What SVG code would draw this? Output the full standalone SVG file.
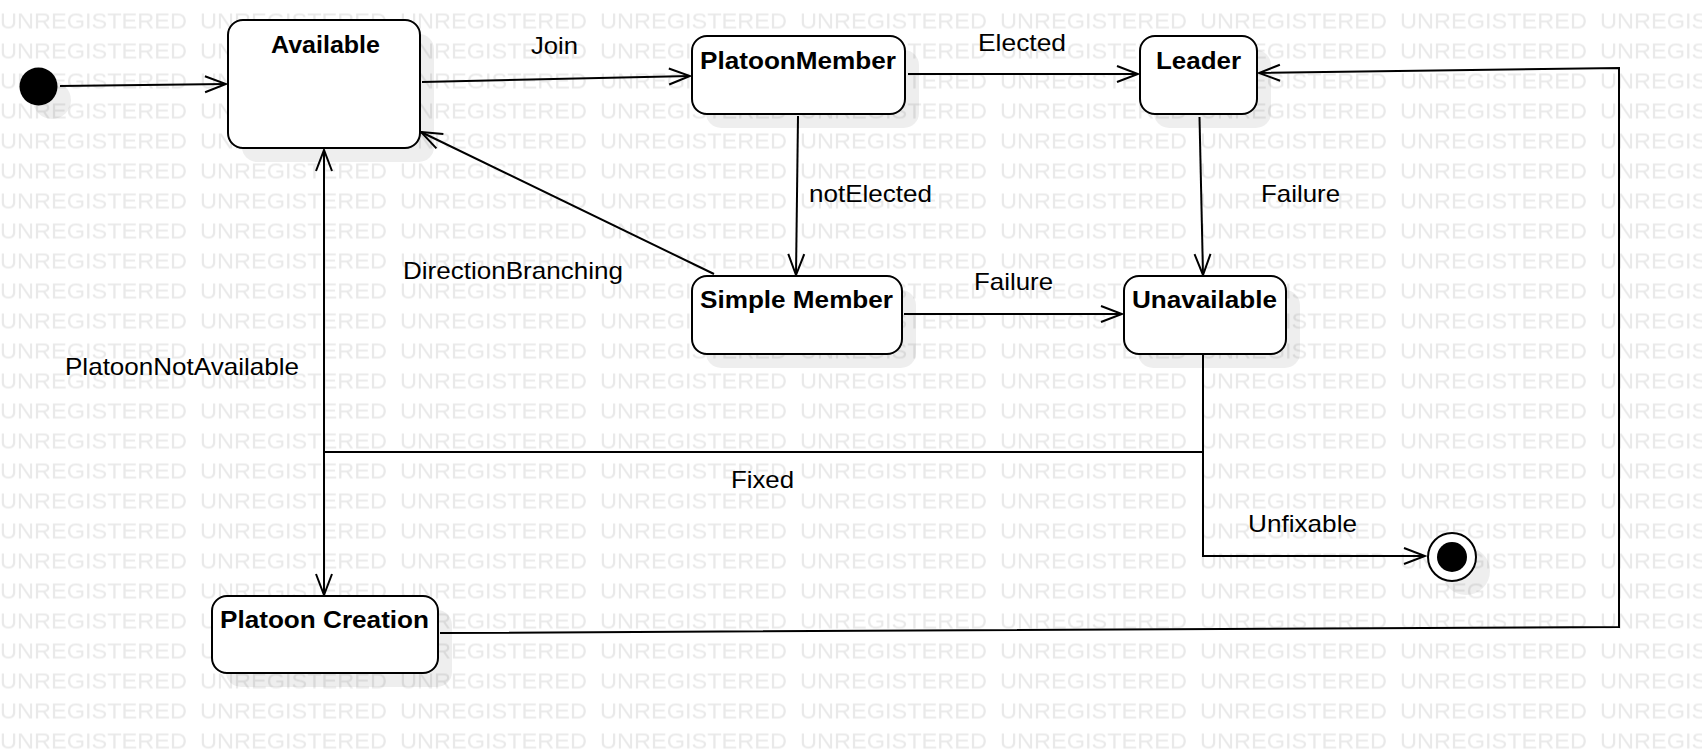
<svg xmlns="http://www.w3.org/2000/svg" width="1702" height="754" viewBox="0 0 1702 754">
<style>
.wm{font-family:"Liberation Sans",Arial,sans-serif;font-size:21.5px;fill:#e9e9e9}
.node{fill:#fff;stroke:#000;stroke-width:2}
.shadow{fill:#000;fill-opacity:0.065}
.title{font-family:"Liberation Sans",Arial,sans-serif;font-size:24px;font-weight:bold;fill:#000}
.lbl{font-family:"Liberation Sans",Arial,sans-serif;font-size:24px;fill:#000}
.edge{fill:none;stroke:#000;stroke-width:2}
</style>
<defs>
<pattern id="wmp" patternUnits="userSpaceOnUse" x="0" y="-1.5" width="200" height="30">
<text class="wm" x="0" y="30" textLength="187" lengthAdjust="spacingAndGlyphs">UNREGISTERED</text>
</pattern>
<marker id="arr" viewBox="-24 -11 26 22" refX="0" refY="0" markerWidth="26" markerHeight="22" markerUnits="userSpaceOnUse" orient="auto">
<path d="M-21,-8 L0,0 L-21,8" fill="none" stroke="#000" stroke-width="2"/>
</marker>
<marker id="arrs" viewBox="-24 -11 26 22" refX="0" refY="0" markerWidth="26" markerHeight="22" markerUnits="userSpaceOnUse" orient="auto-start-reverse">
<path d="M-21,-8 L0,0 L-21,8" fill="none" stroke="#000" stroke-width="2"/>
</marker>
</defs>
<rect width="1702" height="754" fill="#fff"/>
<rect id="watermark" width="1702" height="754" fill="url(#wmp)"/>

<g id="connectors">
<line class="edge" x1="60" y1="86" x2="226" y2="84" marker-end="url(#arr)"/>
<line class="edge" x1="422" y1="82" x2="690" y2="76" marker-end="url(#arr)"/>
<line class="edge" x1="908" y1="74" x2="1138" y2="74" marker-end="url(#arr)"/>
<line class="edge" x1="798" y1="116" x2="796" y2="275" marker-end="url(#arr)"/>
<line class="edge" x1="1199.5" y1="117" x2="1203" y2="275" marker-end="url(#arr)"/>
<line class="edge" x1="904" y1="314" x2="1122" y2="314" marker-end="url(#arr)"/>
<line class="edge" x1="714" y1="274" x2="421" y2="132" marker-end="url(#arr)"/>
<line class="edge" x1="324" y1="150" x2="324" y2="595" marker-start="url(#arrs)" marker-end="url(#arr)"/>
<polyline class="edge" points="1203,355 1203,452 324,452"/>
<polyline class="edge" points="1203,452 1203,556 1425,556" marker-end="url(#arr)"/>
<polyline class="edge" points="440,633 1619,627 1619,68 1259,73" marker-end="url(#arr)"/>
<text class="lbl" x="531" y="54.3" textLength="47" lengthAdjust="spacingAndGlyphs">Join</text>
<text class="lbl" x="978" y="51" textLength="88" lengthAdjust="spacingAndGlyphs">Elected</text>
<text class="lbl" x="809" y="202" textLength="123" lengthAdjust="spacingAndGlyphs">notElected</text>
<text class="lbl" x="1261" y="202" textLength="79" lengthAdjust="spacingAndGlyphs">Failure</text>
<text class="lbl" x="403" y="278.5" textLength="220" lengthAdjust="spacingAndGlyphs">DirectionBranching</text>
<text class="lbl" x="974" y="290" textLength="79" lengthAdjust="spacingAndGlyphs">Failure</text>
<text class="lbl" x="65" y="375" textLength="234" lengthAdjust="spacingAndGlyphs">PlatoonNotAvailable</text>
<text class="lbl" x="731" y="488" textLength="63" lengthAdjust="spacingAndGlyphs">Fixed</text>
<text class="lbl" x="1248" y="532" textLength="109" lengthAdjust="spacingAndGlyphs">Unfixable</text>
</g>

<g id="initial">
<circle class="shadow" cx="52" cy="100" r="19"/>
<circle cx="38.5" cy="86.5" r="19" fill="#000"/>
</g>

<g id="final">
<circle class="shadow" cx="1466" cy="571" r="24"/>
<circle cx="1452" cy="557" r="24" fill="#fff" stroke="#000" stroke-width="2"/>
<circle cx="1452" cy="557" r="15" fill="#000"/>
</g>

<g id="available">
<rect class="shadow" x="242" y="34" width="192" height="128" rx="15"/>
<rect class="node" x="228" y="20" width="192" height="128" rx="15"/>
<text class="title" x="271" y="52.5" textLength="109" lengthAdjust="spacingAndGlyphs">Available</text>
</g>

<g id="platoonMember">
<rect class="shadow" x="706" y="50" width="213" height="78" rx="15"/>
<rect class="node" x="692" y="36" width="213" height="78" rx="15"/>
<text class="title" x="700" y="69" textLength="196" lengthAdjust="spacingAndGlyphs">PlatoonMember</text>
</g>

<g id="leader">
<rect class="shadow" x="1154" y="50" width="117" height="78" rx="15"/>
<rect class="node" x="1140" y="36" width="117" height="78" rx="15"/>
<text class="title" x="1156" y="69" textLength="85" lengthAdjust="spacingAndGlyphs">Leader</text>
</g>

<g id="simpleMember">
<rect class="shadow" x="706" y="290" width="210" height="78" rx="15"/>
<rect class="node" x="692" y="276" width="210" height="78" rx="15"/>
<text class="title" x="700" y="308" textLength="193" lengthAdjust="spacingAndGlyphs">Simple Member</text>
</g>

<g id="unavailable">
<rect class="shadow" x="1138" y="290" width="162" height="78" rx="15"/>
<rect class="node" x="1124" y="276" width="162" height="78" rx="15"/>
<text class="title" x="1132" y="308" textLength="145" lengthAdjust="spacingAndGlyphs">Unavailable</text>
</g>

<g id="platoonCreation">
<rect class="shadow" x="226" y="610" width="226" height="77" rx="15"/>
<rect class="node" x="212" y="596" width="226" height="77" rx="15"/>
<text class="title" x="220" y="628" textLength="209" lengthAdjust="spacingAndGlyphs">Platoon Creation</text>
</g>
</svg>
